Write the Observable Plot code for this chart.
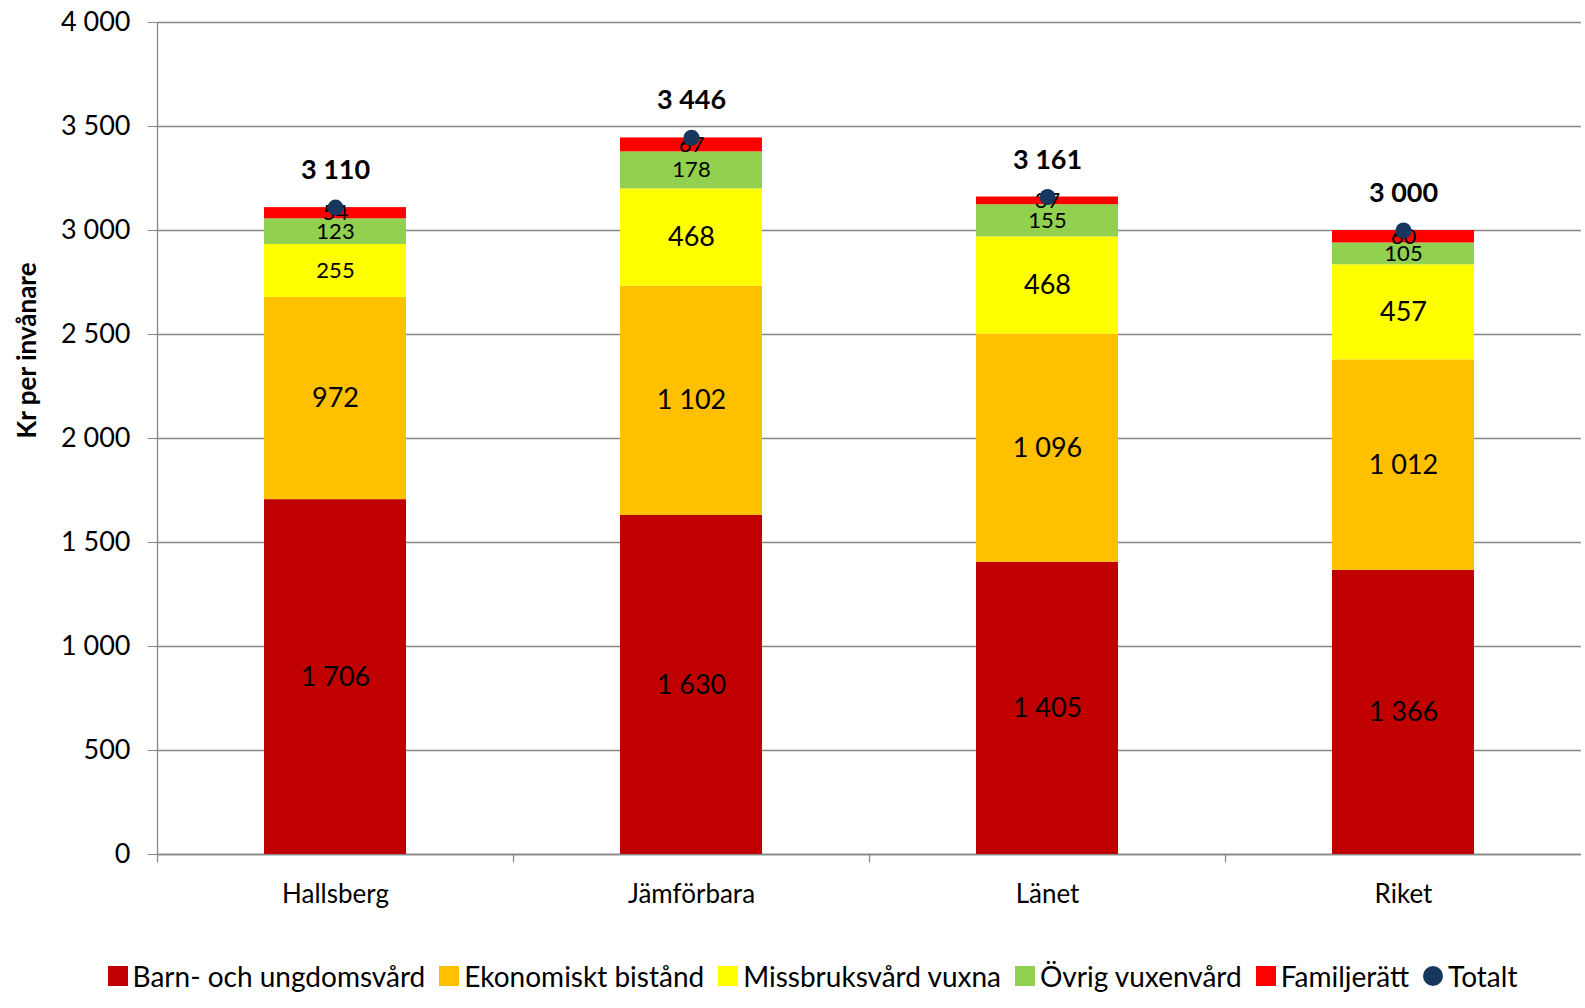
<!DOCTYPE html>
<html><head><meta charset="utf-8">
<script src="https://cdn.jsdelivr.net/npm/d3@7"></script>
<script src="https://cdn.jsdelivr.net/npm/@observablehq/plot@0.6"></script>
<style>
body{margin:0;background:#fff;font-family:Lato,"Open Sans",sans-serif;}
#legend{display:flex;justify-content:center;gap:14px;font-size:28px;margin-top:30px;padding-left:40px}
#legend span{display:inline-flex;align-items:center;gap:5px}
#legend i{display:inline-block;width:20px;height:20px}
</style></head><body>
<div id="chart"></div>
<div id="legend"></div>
<script>
const categories = ["Hallsberg", "Jämförbara", "Länet", "Riket"];
const series = ["Barn- och ungdomsvård", "Ekonomiskt bistånd", "Missbruksvård vuxna", "Övrig vuxenvård", "Familjerätt"];
const colors = ["#C00000", "#FFC000", "#FFFF00", "#92D050", "#FF0000"];
const values = [
  [1706, 972, 255, 123, 54],
  [1630, 1102, 468, 178, 67],
  [1405, 1096, 468, 155, 37],
  [1366, 1012, 457, 105, 60]
];
const totals = [3110, 3446, 3161, 3000];
const yTicks = [0, 500, 1000, 1500, 2000, 2500, 3000, 3500, 4000];

const fmt = v => d3.format(",")(v).replace(/,/g, "\u00a0");
const rows = [];
categories.forEach((c, i) => series.forEach((s, j) => rows.push({cat: c, series: s, value: values[i][j], small: j >= 3 || values[i][j] < 300})));
const tot = categories.map((c, i) => ({cat: c, total: totals[i]}));

const plot = Plot.plot({
  width: 1585, height: 929,
  marginLeft: 157, marginRight: 4, marginTop: 22, marginBottom: 75,
  style: {fontFamily: "Lato, 'Open Sans', sans-serif", fontSize: "26px", color: "#000"},
  x: {domain: categories, paddingInner: 0.6, paddingOuter: 0.3, label: null, tickSize: 0, tickPadding: 30},
  y: {domain: [0, 4000], ticks: yTicks, tickFormat: fmt, label: null, tickSize: 0},
  color: {domain: series, range: colors},
  marks: [
    Plot.gridY(yTicks, {stroke: "#888", strokeOpacity: 1, strokeWidth: 1.3}),
    Plot.ruleX(categories, {x: d => d, dx: -178, y1: 0, y2: -40, stroke: "#888", strokeWidth: 1.3}),
    Plot.ruleX([0], {x: () => categories[0], dx: -178, y1: 0, y2: 4000, stroke: "#888", strokeWidth: 1.3}),
    Plot.ruleY([0], {stroke: "#888", strokeWidth: 1.3}),
    Plot.axisY({ticks: yTicks, tickFormat: fmt, tickSize: 9, tickPadding: 18, stroke: "#888", fontSize: 27, label: null}),
    Plot.barY(rows, {x: "cat", y: "value", fill: "series", order: series}),
    Plot.text(rows, Plot.stackY({x: "cat", y: "value", z: "series", order: series, text: d => fmt(d.value), fontSize: d => d.small ? 22 : 27, fill: "#000"})),
    Plot.dot(tot, {x: "cat", y: "total", r: 8, fill: "#17375E"}),
    Plot.text(tot, {x: "cat", y: "total", text: d => fmt(d.total), dy: -37, fontWeight: "bold", fontSize: 27, fill: "#000"}),
    Plot.text(["Kr per invånare"], {frameAnchor: "left", dx: -130, rotate: -90, fontWeight: "bold", fontSize: 26, fill: "#000"})
  ]
});
document.getElementById("chart").appendChild(plot);

const lg = document.getElementById("legend");
series.forEach((s, j) => lg.insertAdjacentHTML("beforeend", `<span><i style="background:${colors[j]}"></i>${s}</span>`));
lg.insertAdjacentHTML("beforeend", `<span><i style="background:#17375E;border-radius:50%"></i>Totalt</span>`);
</script>
</body></html>
